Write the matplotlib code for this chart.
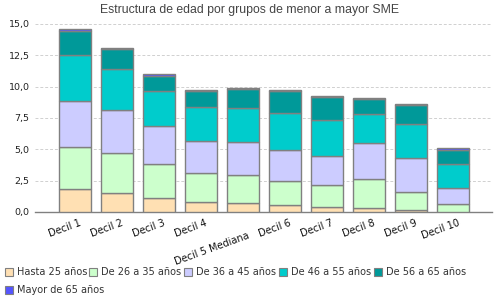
import matplotlib
matplotlib.use("Agg")
import matplotlib.pyplot as plt
import matplotlib.transforms as mtransforms
from matplotlib.patches import Rectangle
import numpy as np

categories = ["Decil 1", "Decil 2", "Decil 3", "Decil 4", "Decil 5 Mediana",
              "Decil 6", "Decil 7", "Decil 8", "Decil 9", "Decil 10"]
series_names = ["Hasta 25 años", "De 26 a 35 años", "De 36 a 45 años",
                "De 46 a 55 años", "De 56 a 65 años", "Mayor de 65 años"]
hasta25 = [1.81, 1.49, 1.09, 0.77, 0.69, 0.53, 0.37, 0.29, 0.13, 0.02]
de26_35 = [3.35, 3.19, 2.71, 2.32, 2.24, 1.92, 1.76, 2.32, 1.44, 0.59]
de36_45 = [3.67, 3.43, 3.04, 2.61, 2.63, 2.47, 2.31, 2.87, 2.71, 1.28]
de46_55 = [3.67, 3.27, 2.79, 2.65, 2.71, 2.96, 2.88, 2.31, 2.77, 1.91]
de56_65 = [1.97, 1.60, 1.25, 1.28, 1.52, 1.75, 1.83, 1.20, 1.52, 1.18]
mayor65 = [0.16, 0.13, 0.12, 0.10, 0.11, 0.10, 0.08, 0.08, 0.04, 0.11]
yticks = [0.0, 2.5, 5.0, 7.5, 10.0, 12.5, 15.0]
ytick_labels = ["0,0", "2,5", "5,0", "7,5", "10,0", "12,5", "15,0"]

series = [hasta25, de26_35, de36_45, de46_55, de56_65, mayor65]
colors = ["#FFE0B3", "#CCFFCC", "#CCCCFF", "#00CCCC", "#009999", "#5555FF"]

W, H = 500, 300
fig = plt.figure(figsize=(5, 3), dpi=100)
ax = fig.add_axes([35 / W, 1 - 212 / H, (492 - 35) / W, (212 - 24) / H])

x = np.arange(len(categories))
bottom = np.zeros(len(categories))
for vals, col, name in zip(series, colors, series_names):
    ax.bar(x, vals, width=0.76, bottom=bottom, color=col, edgecolor="#808080",
           linewidth=1.0, label=name, zorder=3)
    bottom += np.array(vals)

ax.set_xlim(-0.951, 9.916)
ax.set_ylim(0, 15)
ax.set_yticks(yticks)
ax.set_yticklabels(ytick_labels, fontsize=6.8, color="#222222", family="DejaVu Sans")
ax.tick_params(axis="y", length=0, pad=4)
ax.grid(axis="y", color="#d0d0d0", linestyle=(0, (3, 2)), linewidth=0.7, zorder=0)
for s in ["top", "right", "left"]:
    ax.spines[s].set_visible(False)
ax.spines["bottom"].set_color("#808080")
ax.spines["bottom"].set_linewidth(1.0)
ax.set_xticks(x)
ax.set_xticklabels([])
ax.tick_params(axis="x", length=0)

trans = mtransforms.blended_transform_factory(ax.transData, ax.transAxes)
for i, lab in enumerate(categories):
    dy = -6 if i != 4 else -19
    off = mtransforms.ScaledTranslation(4 / 100, dy / 100, fig.dpi_scale_trans)
    ax.text(i, 0, lab, transform=trans + off, rotation=20, rotation_mode="anchor",
            ha="right", va="top", fontsize=7, color="#111111", family="DejaVu Sans")

fig.text(250 / W, 1 - 10 / H, "Estructura de edad por grupos de menor a mayor SME",
         ha="center", va="center", fontsize=8.8, color="#444444", family="Liberation Sans")

# legend
positions = [(5, 272), (89, 272), (184, 272), (279, 272), (374, 272), (5, 290)]
for (px, py), col, name in zip(positions, colors, series_names):
    fig.patches.append(Rectangle((px / W, 1 - (py + 4) / H), 8 / W, 8 / H,
                                 transform=fig.transFigure, facecolor=col,
                                 edgecolor="#808080", linewidth=0.8))
    fig.text((px + 12) / W, 1 - py / H, name, ha="left", va="center",
             fontsize=7, color="#333333", family="DejaVu Sans")

fig.savefig("out.png", dpi=100)
